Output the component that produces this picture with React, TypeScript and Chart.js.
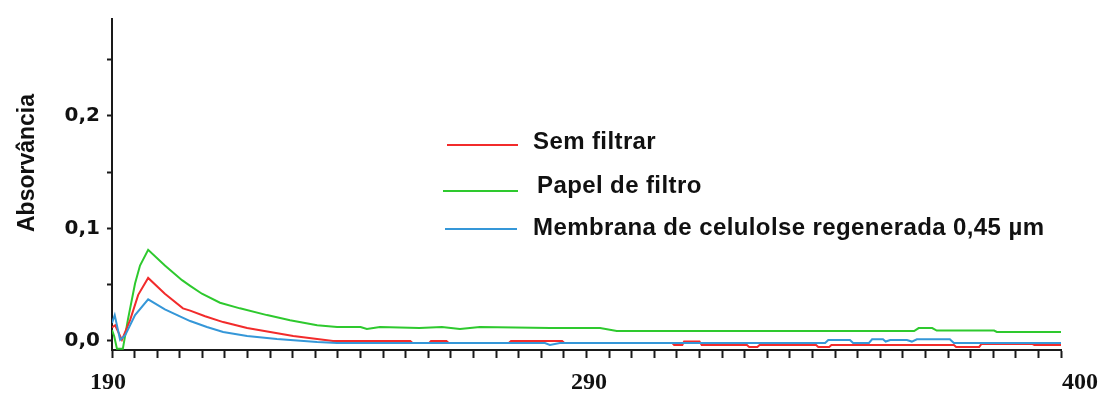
import React, { useEffect, useRef } from 'react';
import { Chart, registerables } from 'chart.js';

Chart.register(...registerables);

// Absorbance spectra (nm vs. absorbance) for the three sample preparations
const semFiltrarNm = [
  190.0, 190.7, 192.2, 194.0, 195.8, 198.0, 201.7, 205.7, 207.3, 210.6, 214.6, 219.9,
  225.0, 230.1, 235.4, 238.9, 256.0, 256.5, 260.2, 260.6, 264.0, 264.5, 277.8, 278.3,
  289.6, 290.1, 314.0, 314.4, 316.2, 316.6, 320.0, 320.5, 330.5, 331.0, 332.8, 333.3,
  345.8, 346.3, 348.7, 349.2, 376.3, 376.8, 381.9, 382.4, 393.6, 394.1, 400.0,
];
const semFiltrarAbs = [
  0.012, 0.014, 0.001, 0.0185, 0.041, 0.056, 0.042, 0.029, 0.027, 0.022, 0.0168, 0.0115,
  0.008, 0.0044, 0.0018, 0.0, 0.0, -0.0018, -0.0018, 0.0, 0.0, -0.0018, -0.0018, 0.0,
  0.0, -0.0018, -0.0018, -0.0035, -0.0035, -0.0005, -0.0005, -0.0035, -0.0035, -0.0053, -0.0053, -0.0035,
  -0.0035, -0.0053, -0.0053, -0.0035, -0.0035, -0.0053, -0.0053, -0.0026, -0.0026, -0.0035, -0.0035,
];

const papelFiltroNm = [
  190.0, 190.5, 191.1, 192.4, 193.5, 195.1, 196.2, 198.0, 201.7, 205.5, 207.3, 209.9,
  213.9, 218.3, 224.3, 229.4, 235.4, 239.8, 245.0, 246.4, 249.3, 258.0, 263.0, 267.0,
  271.4, 287.0, 298.0, 301.7, 367.5, 368.5, 371.5, 372.5, 385.2, 385.8, 400.0,
];
const papelFiltroAbs = [
  0.0097, 0.004, -0.007, -0.007, 0.0185, 0.051, 0.067, 0.081, 0.067, 0.054, 0.049, 0.042,
  0.034, 0.029, 0.023, 0.0185, 0.014, 0.0124, 0.0124, 0.0106, 0.0124, 0.0115, 0.0124, 0.0106,
  0.0124, 0.0115, 0.0115, 0.0088, 0.0088, 0.0115, 0.0115, 0.0093, 0.0093, 0.008, 0.008,
];

const membranaNm = [
  190.0, 190.6, 191.8, 192.9, 195.1, 198.0, 201.7, 205.5, 207.3, 211.0, 214.6, 219.9,
  226.5, 235.4, 239.8, 285.8, 286.9, 289.1, 347.8, 348.5, 353.3, 354.0, 357.5, 358.2,
  360.6, 361.2, 362.2, 365.9, 367.0, 368.1, 375.4, 376.3, 400.0,
];
const membranaAbs = [
  0.016, 0.023, 0.001, 0.005, 0.023, 0.037, 0.028, 0.021, 0.0177, 0.0124, 0.008, 0.0044,
  0.0018, -0.0009, -0.0018, -0.0018, -0.0035, -0.0018, -0.0018, 0.0009, 0.0009, -0.0018, -0.0018, 0.0015,
  0.0015, -0.0005, 0.0009, 0.0009, -0.0005, 0.0015, 0.0015, -0.0018, -0.0018,
];

const seriesLabels = ['Sem filtrar', 'Papel de filtro', 'Membrana de celulolse regenerada 0,45 µm'];
const seriesColors = ['#f22b2b', '#2ec92e', '#3597d8'];

const xMin = 190;
const xMax = 400;
const xTickStep = 5;
const xLabelValues = [190, 290, 400];
const yMin = -0.008;
const yMax = 0.286;
const yTickStep = 0.05;
const yAxisTitle = 'Absorvância';

// horizontal nudges for the wavelength captions, as printed by the instrument software
const xLabelShift = [-4, 25, 19];

const toPoints = (xs: number[], ys: number[]) => xs.map((x, i) => ({ x, y: ys[i] }));

export default function App() {
  const canvasRef = useRef<HTMLCanvasElement>(null);

  useEffect(() => {
    const canvas = canvasRef.current;
    if (!canvas) return;

    const overlay = {
      id: 'spectrumOverlay',
      afterDraw(chart: any) {
        const ctx = chart.ctx as CanvasRenderingContext2D;
        const xScale = chart.scales.x;
        ctx.save();

        // wavelength captions under the axis
        ctx.fillStyle = '#111';
        ctx.font = 'bold 24px "Liberation Serif", "Times New Roman", serif';
        ctx.textAlign = 'center';
        ctx.textBaseline = 'middle';
        xLabelValues.forEach((v, i) => {
          ctx.fillText(String(v), xScale.getPixelForValue(v) + xLabelShift[i], 383);
        });

        // rotated axis title
        ctx.save();
        ctx.translate(28, 163);
        ctx.rotate(-Math.PI / 2);
        ctx.font = 'bold 23px "Liberation Sans", Arial, sans-serif';
        ctx.textAlign = 'center';
        ctx.textBaseline = 'middle';
        ctx.fillText(yAxisTitle, 0, 0);
        ctx.restore();

        // legend entries inside the plot
        const legend = [
          { x0: 447, x1: 518, y: 145, tx: 533, ty: 149 },
          { x0: 443, x1: 518, y: 191, tx: 537, ty: 193 },
          { x0: 445, x1: 517, y: 229, tx: 533, ty: 235 },
        ];
        ctx.font = 'bold 24px "Liberation Sans", Arial, sans-serif';
        (ctx as any).letterSpacing = '0.4px';
        ctx.textAlign = 'left';
        ctx.textBaseline = 'alphabetic';
        legend.forEach((e, i) => {
          ctx.strokeStyle = seriesColors[i];
          ctx.lineWidth = 2;
          ctx.beginPath();
          ctx.moveTo(e.x0, e.y);
          ctx.lineTo(e.x1, e.y);
          ctx.stroke();
          ctx.fillStyle = '#111';
          ctx.fillText(seriesLabels[i], e.tx, e.ty);
        });

        ctx.restore();
      },
    };

    const chart = new Chart(canvas, {
      type: 'line',
      data: {
        datasets: [
          { label: seriesLabels[0], data: toPoints(semFiltrarNm, semFiltrarAbs), borderColor: seriesColors[0], order: 1 },
          { label: seriesLabels[1], data: toPoints(papelFiltroNm, papelFiltroAbs), borderColor: seriesColors[1], order: 2 },
          { label: seriesLabels[2], data: toPoints(membranaNm, membranaAbs), borderColor: seriesColors[2], order: 0 },
        ],
      },
      options: {
        animation: false,
        responsive: false,
        maintainAspectRatio: false,
        layout: { padding: { top: 17, right: 40, left: 0, bottom: 0 } },
        plugins: { legend: { display: false }, tooltip: { enabled: false } },
        elements: {
          point: { radius: 0 },
          line: { tension: 0, borderWidth: 2, fill: false },
        },
        scales: {
          x: {
            type: 'linear',
            min: xMin,
            max: xMax,
            afterFit: (s: any) => { s.height = 46; },
            ticks: {
              stepSize: xTickStep,
              autoSkip: false,
              maxRotation: 0,
              includeBounds: false,
              callback: () => '',
            },
            grid: {
              drawOnChartArea: false,
              drawTicks: true,
              tickLength: 8,
              tickWidth: 2,
              tickColor: '#1a1a1a',
            },
            border: { display: true, color: '#1a1a1a', width: 2 },
          },
          y: {
            type: 'linear',
            min: yMin,
            max: yMax,
            afterFit: (s: any) => { s.width = 112; },
            ticks: {
              stepSize: yTickStep,
              includeBounds: false,
              padding: 7,
              color: '#111',
              font: { family: '"DejaVu Sans", Verdana, sans-serif', size: 20, weight: 'bold' },
              callback: (v: any) => {
                const n = Number(v) * 10;
                const r = Math.round(n);
                return Math.abs(n - r) < 1e-6 ? (r / 10).toFixed(1).replace('.', ',') : '';
              },
            },
            grid: {
              drawOnChartArea: false,
              drawTicks: true,
              tickLength: 5,
              tickWidth: 2,
              tickColor: '#1a1a1a',
            },
            border: { display: true, color: '#1a1a1a', width: 2 },
          },
        },
      },
      plugins: [overlay],
    } as any);

    return () => chart.destroy();
  }, []);

  return (
    <div style={{ position: 'absolute', left: 0, top: 0, width: 1101, height: 396, background: '#fff' }}>
      <canvas ref={canvasRef} width={1101} height={396} style={{ display: 'block' }} />
    </div>
  );
}
